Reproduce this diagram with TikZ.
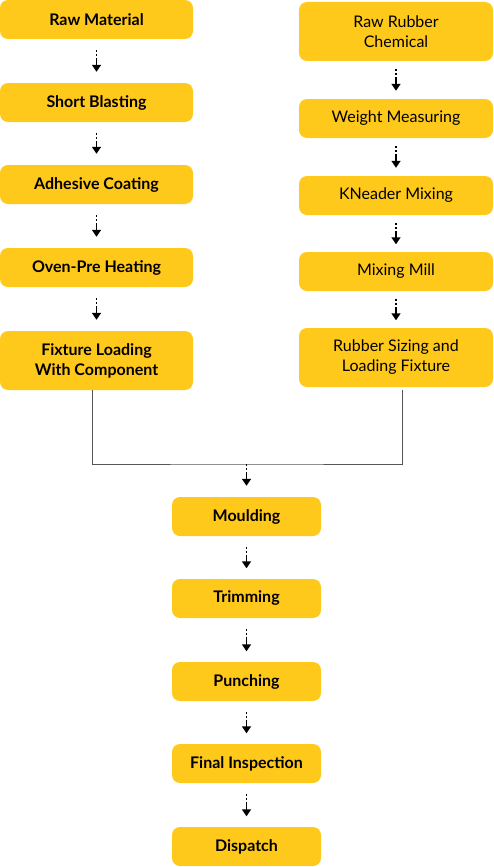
\documentclass[tikz,border=0pt]{standalone}
\usepackage{fontspec}
\setmainfont{Lato}
\usetikzlibrary{arrows.meta}
\definecolor{boxyellow}{HTML}{FFC91C}
\definecolor{linegrey}{HTML}{555555}
\tikzset{
  box/.style={fill=boxyellow, draw=none, rounded corners=8pt, align=center, font=\fontsize{16pt}{20pt}\selectfont, text=black, inner sep=0pt},
  lbox/.style={box, minimum width=193pt, minimum height=39pt, font=\fontsize{16pt}{20pt}\selectfont\bfseries},
  rbox/.style={box, minimum width=194pt, minimum height=39pt},
  cbox/.style={box, minimum width=149pt, minimum height=39pt, font=\fontsize{16pt}{20pt}\selectfont\bfseries},
  flow/.style={draw=black, line width=1.6pt, dash pattern=on 2pt off 2pt on 2pt off 2pt on 30pt, -{Triangle[width=9pt,length=7pt]}, shorten <=#1, shorten >=#1},
  joinline/.style={draw=linegrey, line width=1pt}
}
\begin{document}
\begin{tikzpicture}[x=1pt,y=1pt]
\useasboundingbox (0,0) rectangle (493,-867);
% left column
\node[lbox] (rm) at (96.5,-19.5) {Raw Material};
\node[lbox] (sb) at (96.5,-102.5) {Short Blasting};
\node[lbox] (ac) at (96.5,-184.5) {Adhesive Coating};
\node[lbox] (op) at (96.5,-267.5) {Oven-Pre Heating};
\node[lbox, minimum height=59pt] (fl) at (96.5,-360.5) {Fixture Loading\\With Component};
% right column
\node[rbox, minimum height=59pt] (rr) at (396,-31.5) {Raw Rubber\\Chemical};
\node[rbox] (wm) at (396,-118.5) {Weight Measuring};
\node[rbox] (km) at (396,-195.5) {KNeader Mixing};
\node[rbox] (mm) at (396,-271.5) {Mixing Mill};
\node[rbox, minimum height=59pt] (rs) at (396,-357.5) {Rubber Sizing and\\Loading Fixture};
% center column
\node[cbox] (mo) at (246.5,-516.5) {Moulding};
\node[cbox] (tr) at (246.5,-598.5) {Trimming};
\node[cbox] (pu) at (246.5,-681.5) {Punching};
\node[cbox] (fi) at (246.5,-763.5) {Final Inspection};
\node[cbox] (di) at (246.5,-846.5) {Dispatch};
% arrows
\draw[flow=11pt] (rm) -- (sb);
\draw[flow=11pt] (sb) -- (ac);
\draw[flow=11pt] (ac) -- (op);
\draw[flow=11pt] (op) -- (fl);
\draw[flow=8pt] (rr) -- (wm);
\draw[flow=8pt] (wm) -- (km);
\draw[flow=7.5pt] (km) -- (mm);
\draw[flow=7.5pt] (mm) -- (rs);
\draw[flow=10.5pt] (mo) -- (tr);
\draw[flow=10.5pt] (tr) -- (pu);
\draw[flow=10.5pt] (pu) -- (fi);
\draw[flow=10.5pt] (fi) -- (di);
% join
\coordinate (j) at (246.5,-464);
\draw[joinline] ([xshift=-4.5pt]fl.south) |- (j) -| ([xshift=6pt,yshift=-3pt]rs.south);
\draw[flow=0pt, shorten >=11pt] (j) -- (mo.north);
\end{tikzpicture}
\end{document}
